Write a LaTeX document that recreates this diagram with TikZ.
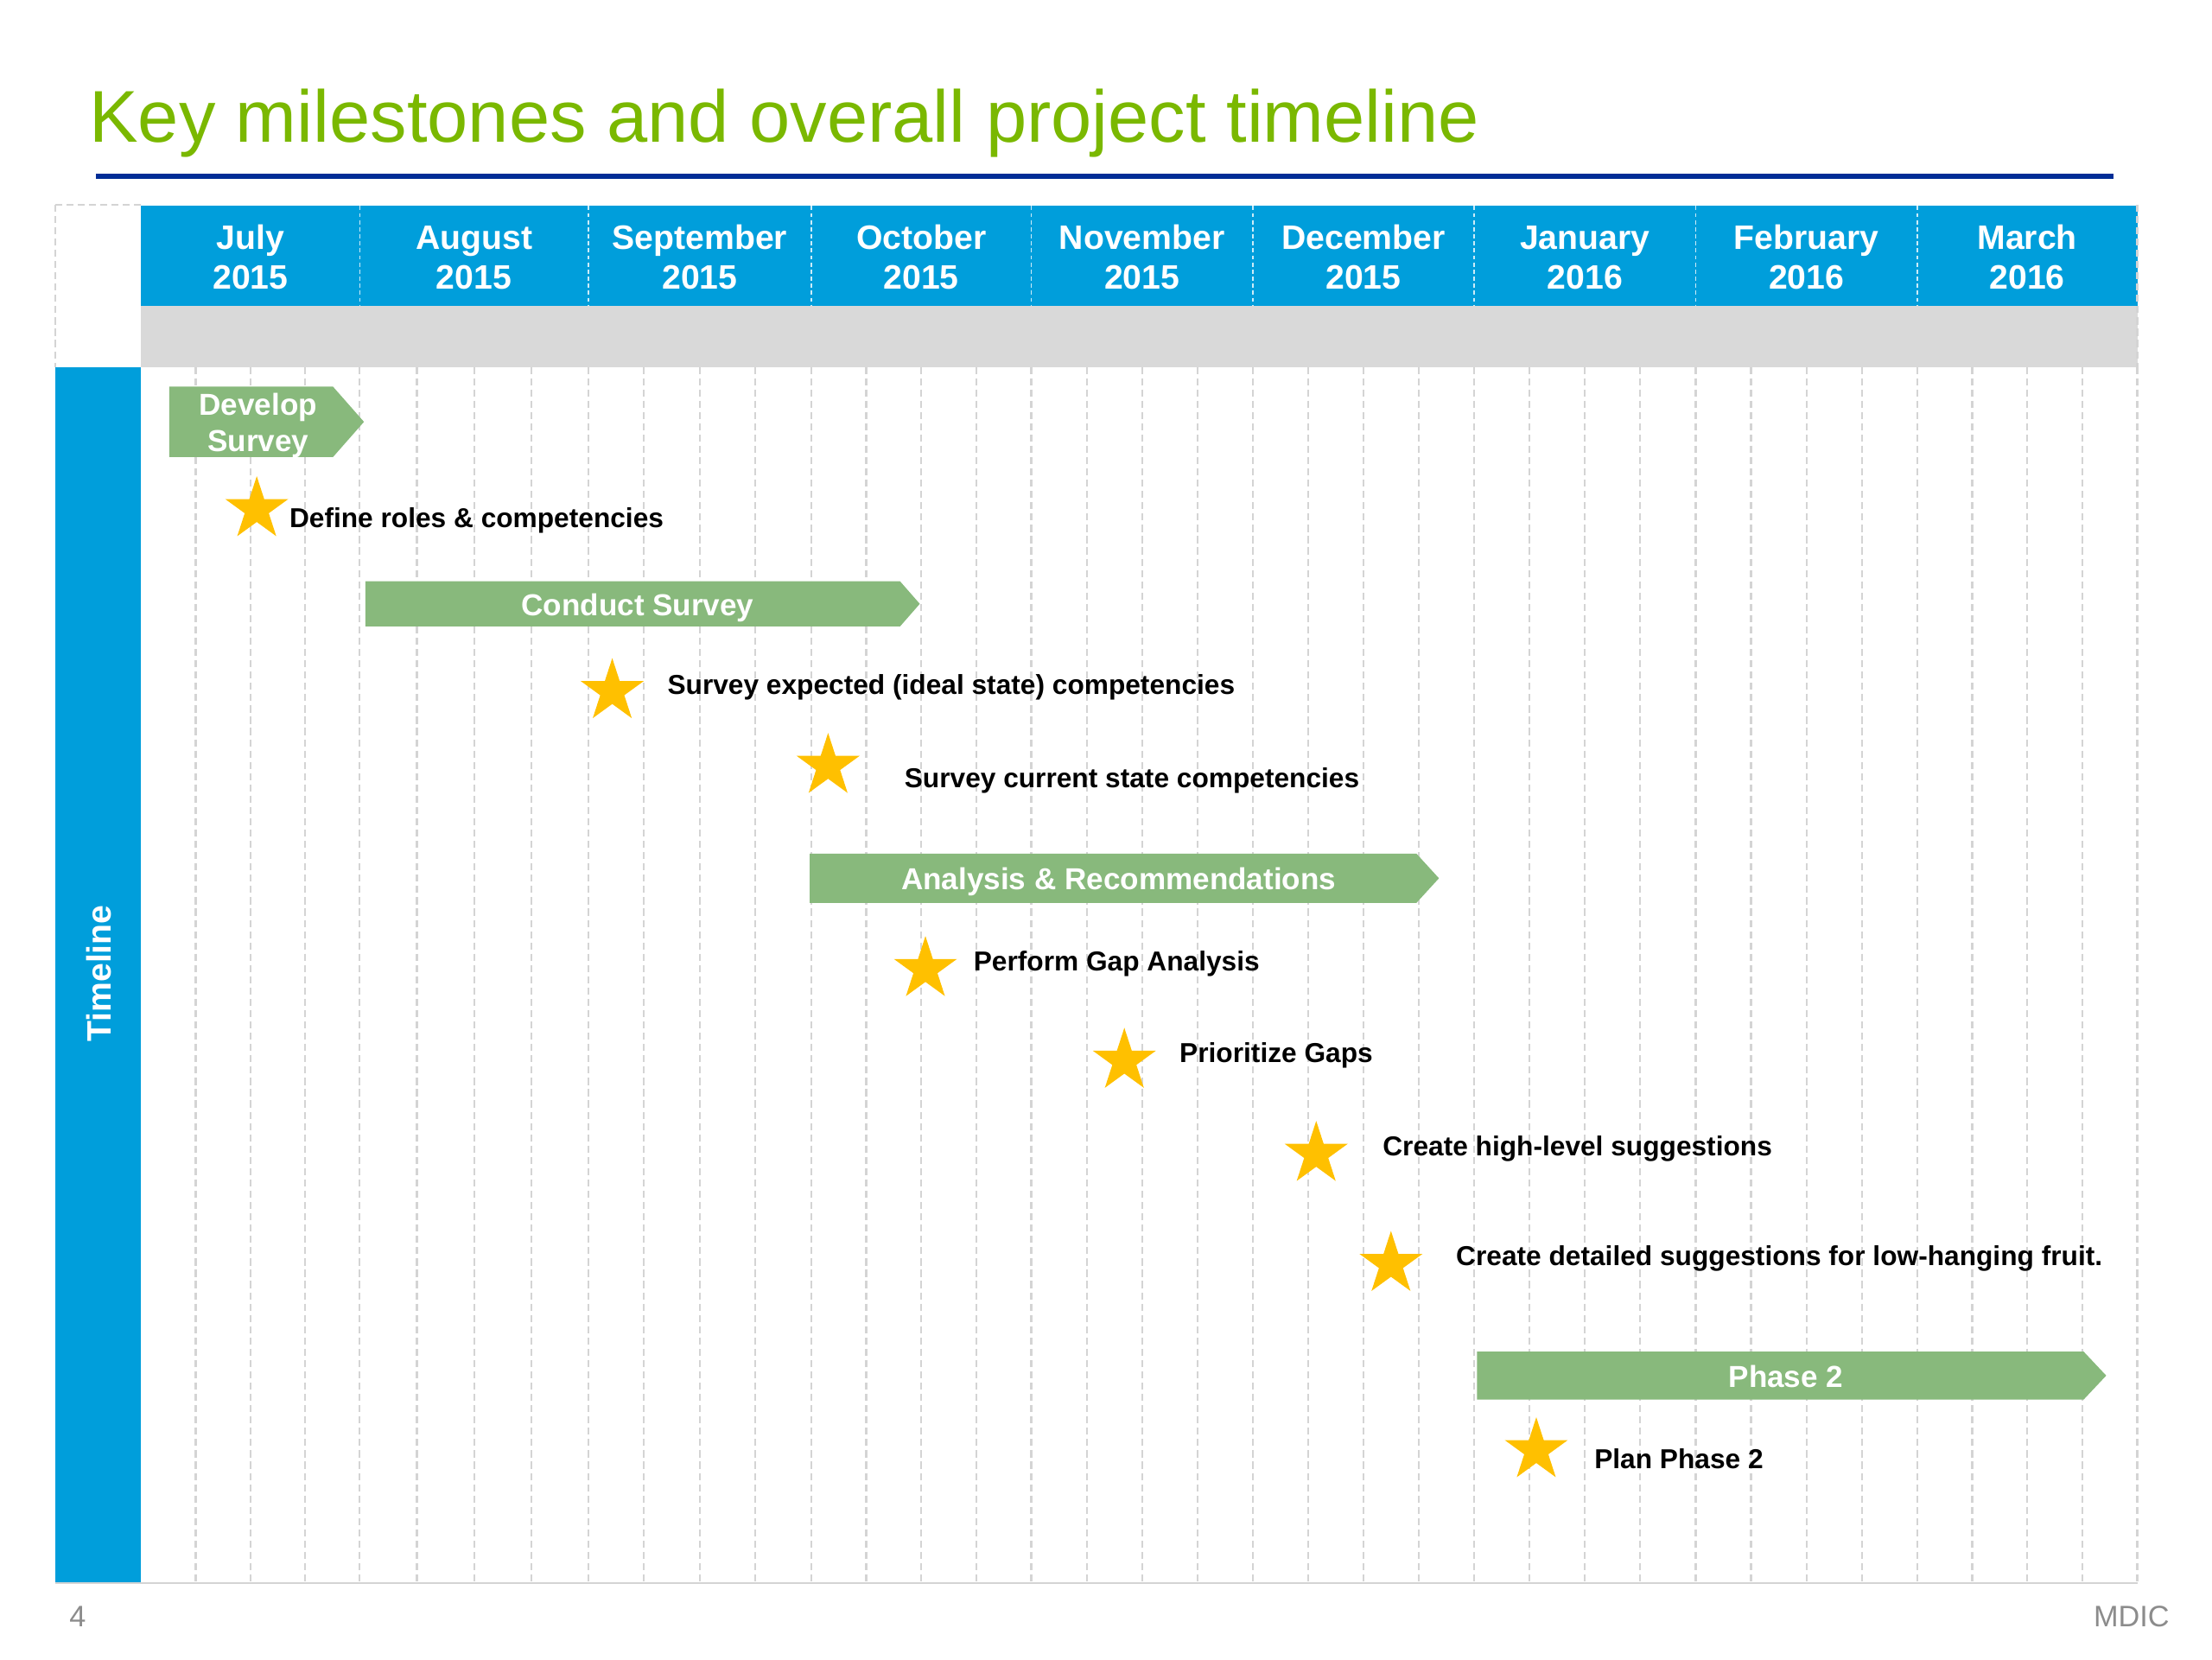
\documentclass[tikz,border=0pt]{standalone}
\usepackage{fontspec}
\setmainfont{Liberation Sans}
\usetikzlibrary{shapes.geometric}
\definecolor{hdrblue}{RGB}{0,158,219}
\definecolor{titlegreen}{RGB}{122,184,0}
\definecolor{rulblue}{RGB}{0,45,150}
\definecolor{barg}{RGB}{136,185,124}
\definecolor{stargold}{RGB}{255,192,0}
\definecolor{band}{RGB}{217,217,217}
\definecolor{gridg}{RGB}{212,212,212}
\definecolor{footg}{RGB}{140,140,140}
\begin{document}
\begin{tikzpicture}[x=1pt,y=-1pt,
  gridline/.style={draw=gridg, line width=1.3pt, dash pattern=on 5pt off 3pt},
  sepline/.style={draw=white!80!hdrblue, line width=1pt, dash pattern=on 3pt off 2pt},
  month/.style={font=\fontsize{24}{28}\selectfont\bfseries, text=white, anchor=base, inner sep=0pt},
  barshape/.style={fill=barg},
  bartext/.style={font=\fontsize{21.5}{26}\selectfont\bfseries, text=white, anchor=base, inner sep=0pt},
  starshape/.style={star, star points=5, star point ratio=2.618, fill=stargold, draw=none, inner sep=0pt, minimum size=47pt},
  mstext/.style={font=\fontsize{19.4}{23}\selectfont\bfseries, text=black, anchor=base west, inner sep=0pt},
  foottext/.style={font=\fontsize{21}{25}\selectfont, text=footg, inner sep=0pt}
]
\useasboundingbox (0,0) rectangle (1568,1176);

% title and rule
\node[anchor=base west, inner sep=0pt, text=titlegreen, font=\fontsize{52}{60}\selectfont] (title) at (63,101) {Key milestones and overall project timeline};
\draw[rulblue, line width=4pt] (68,125) -- (1498,125);

% header bands
\fill[hdrblue] (100,146) rectangle (1515,217);
\fill[band] (100,217) rectangle (1515,260);
\fill[hdrblue] (39,260) rectangle (100,1122);

% grid lines
\foreach \a/\b in {100/255,255/417,417/575,575/731,731/888,888/1045,1045/1202,1202/1359,1359/1515}{
  \foreach \k in {1,2,3}{
    \draw[gridline] ({\a+\k*(\b-\a)/4},260) -- ({\a+\k*(\b-\a)/4},1122);
  }
  \draw[gridline] (\b,260) -- (\b,1122);
}
\foreach \b in {255,417,575,731,888,1045,1202,1359}{
  \draw[sepline] (\b,146) -- (\b,217);
}
\draw[gridline] (39,145) -- (100,145);
\draw[gridline] (39,145) -- (39,260);
\draw[gridline] (1515,145) -- (1515,260);
\draw[draw=gridg, line width=1.6pt] (39,1122) -- (1515,1122);

% month labels
\foreach \c/\m/\yr [count=\i] in {177.5/July/2015, 336/August/2015, 496/September/2015, 653/October/2015, 809.5/November/2015, 966.5/December/2015, 1123.5/January/2016, 1280.5/February/2016, 1437/March/2016}{
  \node[month] (mn\i) at (\c,177) {\m};
  \node[month] (my\i) at (\c,205) {\yr};
}

% timeline label
\node[rotate=90, font=\fontsize{24}{28}\selectfont\bfseries, text=white, inner sep=0pt] (tl) at (70,690) {Timeline};

% green bars
\fill[barshape] (120,274) -- (236,274) -- (258,299) -- (236,324) -- (120,324) -- cycle;
\node[bartext] (b1a) at (183,294.5) {Develop};
\node[bartext] (b1b) at (183,320) {Survey};
\fill[barshape] (259,412) -- (638,412) -- (652,428) -- (638,444) -- (259,444) -- cycle;
\node[bartext] (b2) at (452,436.5) {Conduct Survey};
\fill[barshape] (574,605) -- (1004,605) -- (1020,622.5) -- (1004,640) -- (574,640) -- cycle;
\node[bartext] (b3) at (793,630.5) {Analysis \& Recommendations};
\fill[barshape] (1047,958) -- (1477,958) -- (1493,975) -- (1477,992) -- (1047,992) -- cycle;
\node[bartext] (b4) at (1266,983.5) {Phase 2};

% milestones
\node[starshape] (s1) at (182,361) {};
\node[mstext] (t1) at (205,374) {Define roles \& competencies};
\node[starshape] (s2) at (434,490) {};
\node[mstext] (t2) at (473,492) {Survey expected (ideal state) competencies};
\node[starshape] (s3) at (587,543) {};
\node[mstext] (t3) at (641,558) {Survey current state competencies};
\node[starshape] (s4) at (656,687) {};
\node[mstext] (t4) at (690,688) {Perform Gap Analysis};
\node[starshape] (s5) at (797,752) {};
\node[mstext] (t5) at (836,753) {Prioritize Gaps};
\node[starshape] (s6) at (933,818) {};
\node[mstext] (t6) at (980,819) {Create high-level suggestions};
\node[starshape] (s7) at (986,896) {};
\node[mstext] (t7) at (1032,897) {Create detailed suggestions for low-hanging fruit.};
\node[starshape] (s8) at (1089,1028) {};
\node[mstext] (t8) at (1130,1041) {Plan Phase 2};

% footer
\node[foottext, anchor=base west] (pg) at (49,1153) {4};
\node[foottext, anchor=base east] (md) at (1538,1153) {MDIC};
\end{tikzpicture}
\end{document}
